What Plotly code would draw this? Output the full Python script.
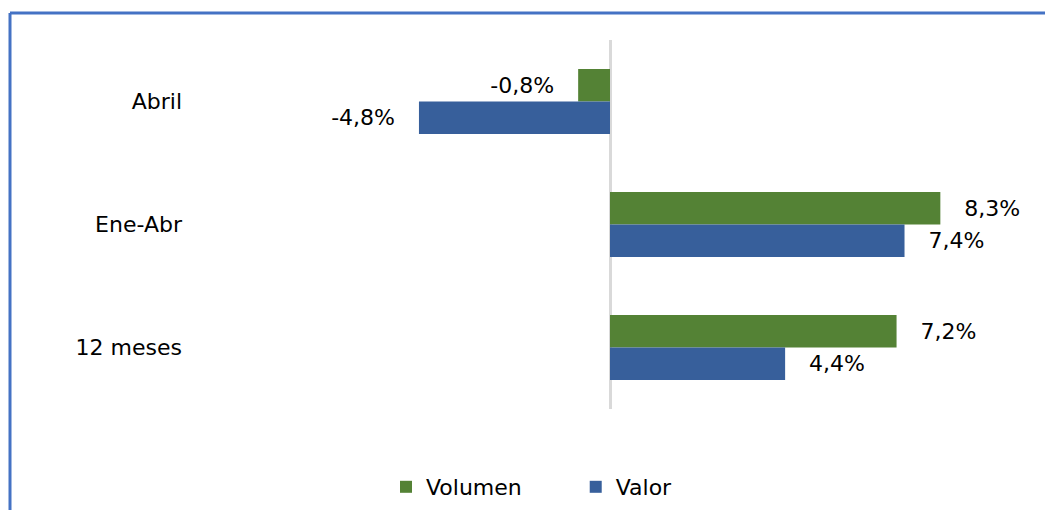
import plotly.graph_objects as go

categories = ["Abril", "Ene-Abr", "12 meses"]
volumen = [-0.8, 8.3, 7.2]
valor = [-4.8, 7.4, 4.4]
series_names = ["Volumen", "Valor"]

GREEN = "#548235"
BLUE = "#375F9B"
FONT = "DejaVu Sans"
FS = 22
PAD = "\u00a0\u00a0\u00a0"


def fmt(v):
    s = f"{v:.1f}".replace(".", ",") + "%"
    return s + PAD if v < 0 else PAD + s


fig = go.Figure()
for i, (vals, col) in enumerate([(volumen, GREEN), (valor, BLUE)]):
    label = series_names[i] + ("\u00a0" * 7 if i == 0 else "")
    fig.add_trace(go.Bar(
        y=categories, x=vals, name=label, orientation="h",
        marker=dict(color=col, line=dict(width=0)),
        text=[fmt(v) for v in vals], textposition="outside",
        textfont=dict(family=FONT, size=FS, color="#000000"),
        constraintext="none", cliponaxis=False,
    ))

# page is rendered with an 8px body margin
OFF = 8
W, H = 1053 - OFF, 510 - OFF
ml, mr, mt, mb = 212 - OFF, 45, 40 - OFF, 101
pw, ph = W - ml - mr, H - mt - mb

fig.update_layout(
    width=W, height=H,
    margin=dict(l=ml, r=mr, t=mt, b=mb, autoexpand=False),
    paper_bgcolor="white", plot_bgcolor="white",
    barmode="group", bargap=0.47, bargroupgap=0,
    font=dict(family=FONT, size=FS, color="#000000"),
    xaxis=dict(range=[-10, 10], showticklabels=False, showgrid=False,
               zeroline=True, zerolinecolor="#D9D9D9", zerolinewidth=3,
               fixedrange=True),
    yaxis=dict(autorange="reversed", showgrid=False, zeroline=False,
               ticks="", ticklabelstandoff=29,
               tickfont=dict(family=FONT, size=FS, color="#000000")),
    legend=dict(orientation="h", xref="container", yref="container",
                x=(378 - OFF + 8) / W, xanchor="left",
                y=1 - (487 - OFF) / H, yanchor="middle",
                font=dict(family=FONT, size=FS, color="#000000"),
                itemwidth=30, traceorder="normal"),
    showlegend=True,
)

# outer chart border (blue frame, top and left visible)
bx = (2 - ml) / pw
by = 1 + (mt - 5) / ph
fig.add_shape(type="line", xref="paper", yref="paper", x0=bx, x1=1.2, y0=by, y1=by,
              line=dict(color="#4472C4", width=3))
fig.add_shape(type="line", xref="paper", yref="paper", x0=bx, x1=bx, y0=by, y1=-0.5,
              line=dict(color="#4472C4", width=3))

fig.write_html("out.html")
